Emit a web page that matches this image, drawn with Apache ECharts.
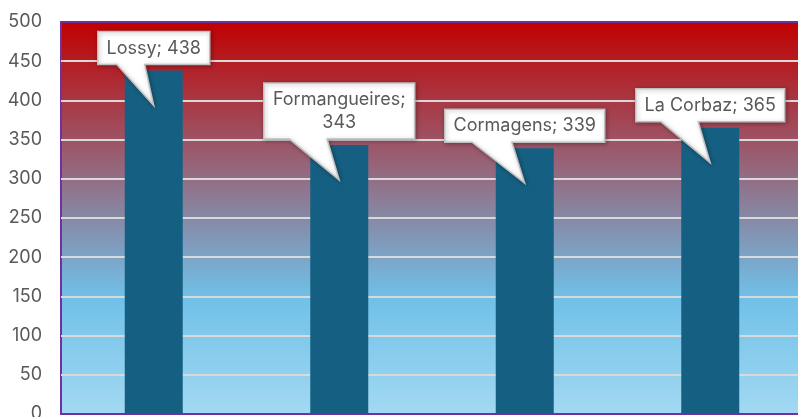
<!DOCTYPE html>
<html>
<head>
<meta charset="utf-8">
<script src="https://cdn.jsdelivr.net/npm/echarts@6/dist/echarts.min.js"></script>
<style>
  html, body { margin: 0; padding: 0; background: #fff; }
  #chart { width: 798px; height: 417px; }
</style>
</head>
<body>
<div id="chart"></div>
<script>
// chart values
const categories = ['Lossy', 'Formangueires', 'Cormagens', 'La Corbaz']
const values = [438, 343, 339, 365]
const yTicks = [0, 50, 100, 150, 200, 250, 300, 350, 400, 450, 500]

const FONT = 'Inter, "Liberation Sans", sans-serif'
const textColor = '#595959'

const measureCtx = document.createElement('canvas').getContext('2d')
measureCtx.font = '18px ' + FONT

// callout text, wrapped after "; " when it gets too wide
function calloutLines(i) {
  const full = categories[i] + '; ' + values[i]
  if (measureCtx.measureText(full).width > 160) {
    return [categories[i] + ';', String(values[i])]
  }
  return [full]
}

function renderCallout(params, api) {
  const top = api.coord([api.value(0), api.value(1)])
  const tip = [top[0], top[1] + 35]
  const lines = calloutLines(params.dataIndex)
  let tw = 0
  lines.forEach(l => { tw = Math.max(tw, measureCtx.measureText(l).width) })
  const w = Math.round(tw + 18)
  const h = lines.length * 23 + 10
  const B = tip[1] - 41
  const T = B - h
  const L = tip[0] - w / 2
  const R = L + w
  return {
    type: 'group',
    children: [{
      type: 'polygon',
      shape: {
        points: [[L, T], [R, T], [R, B], [L + 0.42 * w, B], tip, [L + 0.17 * w, B], [L, B]]
      },
      style: {
        fill: '#fff',
        stroke: '#BFBFBF',
        lineWidth: 1.5,
        shadowColor: 'rgba(0,0,0,0.3)',
        shadowBlur: 4,
        shadowOffsetX: 1,
        shadowOffsetY: 1
      }
    }, {
      type: 'text',
      style: {
        x: (L + R) / 2,
        y: (T + B) / 2,
        text: lines.join('\n'),
        align: 'center',
        verticalAlign: 'middle',
        font: '18px ' + FONT,
        lineHeight: 23,
        fill: textColor
      }
    }]
  }
}

const chart = echarts.init(document.getElementById('chart'))
chart.setOption({
  animation: false,
  grid: {
    left: 61,
    top: 22,
    width: 742,
    height: 392,
    outerBoundsMode: 'none',
    containLabel: false,
    show: true,
    borderColor: '#7030A0',
    borderWidth: 2,
    backgroundColor: new echarts.graphic.LinearGradient(0, 0, 0, 1, [
      { offset: 0, color: '#C00000' },
      { offset: 0.7, color: '#70C0E8' },
      { offset: 1, color: '#A3D9F2' }
    ])
  },
  xAxis: {
    type: 'category',
    data: categories,
    axisLine: { show: false },
    axisTick: { show: false },
    axisLabel: { show: false }
  },
  yAxis: {
    type: 'value',
    min: yTicks[0],
    max: yTicks[yTicks.length - 1],
    interval: yTicks[1] - yTicks[0],
    axisLine: { show: false },
    axisTick: { show: false },
    axisLabel: {
      margin: 19,
      color: textColor,
      fontSize: 18,
      fontFamily: FONT
    },
    splitLine: {
      showMinLine: false,
      showMaxLine: false,
      lineStyle: { color: '#D9D9D9', width: 2 }
    }
  },
  series: [{
    type: 'bar',
    data: values,
    barWidth: 58,
    itemStyle: { color: '#156082' }
  }, {
    type: 'custom',
    data: values.map((v, i) => [i, v]),
    encode: { x: 0, y: 1 },
    z: 10,
    renderItem: renderCallout
  }]
})
</script>
</body>
</html>
